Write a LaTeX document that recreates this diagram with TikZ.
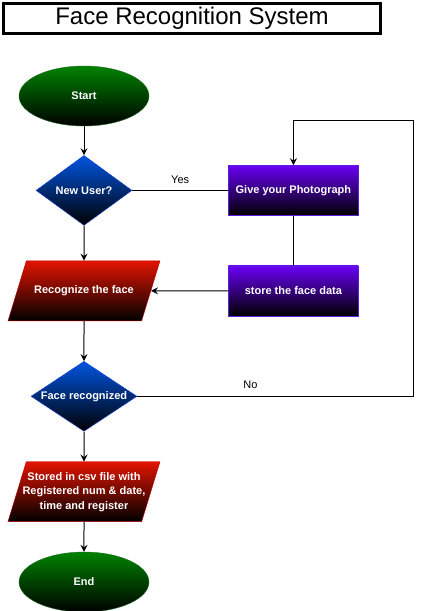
\documentclass[tikz,border=0pt]{standalone}
\usepackage{fontspec}
\setmainfont{Liberation Sans}
\usetikzlibrary{positioning}
\usetikzlibrary{shapes.geometric}
\usetikzlibrary{arrows.meta}
\definecolor{termtop}{RGB}{0,130,0}
\definecolor{termline}{RGB}{30,110,30}
\definecolor{asktop}{RGB}{0,85,225}
\definecolor{askline}{RGB}{30,70,220}
\definecolor{steptop}{RGB}{105,0,245}
\definecolor{stepline}{RGB}{90,30,220}
\definecolor{iotop}{RGB}{225,20,0}
\definecolor{ioline}{RGB}{190,0,0}
\tikzset{%
  myedge/.style={->, line width=1pt, >={Stealth[length=7pt,width=7pt,inset=2.5pt]}},
  myline/.style={-, line width=1pt},
  mytext/.style={text=white, font=\fontsize{11}{14.5}\selectfont\bfseries, inner sep=0pt},
  myterm/.style={ellipse, draw=termline, top color=termtop, bottom color=black,
    minimum width=130pt, minimum height=60pt, mytext},
  myask/.style={diamond, aspect=1.5, draw=askline, top color=asktop, bottom color=black,
    minimum width=96pt, minimum height=70pt, mytext},
  mystep/.style={rectangle, draw=stepline, top color=steptop, bottom color=black,
    minimum width=130pt, minimum height=50pt, mytext},
  myio/.style={trapezium, trapezium left angle=73, trapezium right angle=107,
    trapezium stretches body=true, draw=ioline, top color=iotop, bottom color=black,
    minimum width=152pt, align=center, mytext},
  mylabel/.style={font=\fontsize{11}{13}\selectfont}
}
\begin{document}
\begin{tikzpicture}[x=1pt,y=-1pt]
  \useasboundingbox (0,0) rectangle (422,611);
  \node[draw, line width=3pt, minimum width=377pt, minimum height=30pt,
    font=\fontsize{24}{28}\selectfont] (title) at (192,18.5) {Face Recognition System};
  \node[myterm] (start) at (84,96) {Start};
  \node[myask, below=29pt of start] (newuser) {New User?};
  \node[myio, inner ysep=24.9pt, below=35pt of newuser] (recog) {Recognize the face};
  \node[myask, below=40pt of recog, minimum width=106pt] (facerec) {Face recognized};
  \node[myio, inner ysep=10.3pt, inner xsep=-6pt, below=30pt of facerec] (stored) {Stored in csv file with\\Registered num \& date,\\time and register};
  \node[myterm, below=30pt of stored] (end) {End};
  \node[mystep, right=96pt of newuser] (photo) {Give your Photograph};
  \node[mystep, below=50pt of photo] (store) {store the face data};
  \coordinate[above=45pt] (loop) at (photo.north);
  \coordinate[right=276pt] (turn) at (facerec.east);
  \draw [myedge] (start) -- (newuser);
  \draw [myline] (newuser) -- (photo) node [mylabel, midway, above=3pt] {Yes};
  \draw [myedge] (newuser) -- (recog);
  \draw [myline] (photo) -- (store);
  \draw [myedge] (store) -- (recog);
  \draw [myedge] (recog) -- (facerec);
  \draw [myedge] (facerec.east) -- node [mylabel, pos=0.41, above=4pt] {No} (turn) |- (loop) -- (photo.north);
  \draw [myedge] (facerec) -- (stored);
  \draw [myedge] (stored) -- (end);
\end{tikzpicture}
\end{document}
